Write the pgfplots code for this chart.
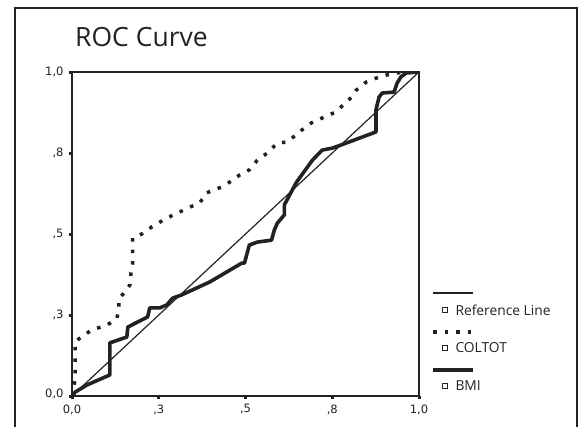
\documentclass[border=0pt]{standalone}
\usepackage{fontspec}
\setmainfont{Open Sans}
\newfontfamily\tickfont{DejaVu Sans}
\usepackage{pgfplots}
\pgfplotsset{compat=1.18}
\definecolor{ink}{HTML}{222222}

\begin{document}
\begin{tikzpicture}
\useasboundingbox (0,0) rectangle (586bp,-427bp);
\begin{axis}[
    at={(72bp,-396bp)}, anchor=south west,
    scale only axis, width=347bp, height=324bp,
    xmin=0, xmax=1, ymin=0, ymax=1,
    xtick={0,0.25,0.5,0.75,1}, ytick={0,0.25,0.5,0.75,1},
    xticklabels={{0,0},{,3},{,5},{,8},{1,0}},
    yticklabels={{\raisebox{6bp}{0,0}},{,3},{,5},{,8},{1,0}},
    xtick pos=left, ytick pos=left,
    axis line style={ink, line width=1.8bp},
    tick align=outside, major tick length=3bp,
    tick style={ink, line width=3bp},
    every tick label/.append style={text=ink, font=\tickfont\fontsize{11.5bp}{14bp}\selectfont},
    xticklabel style={yshift=-2bp},
    yticklabel style={xshift=-2bp},
]
% reference line
\addplot[ink, line width=1.2bp] coordinates {(0,0) (1,1)};
% COLTOT
\addplot[ink, line width=3.5bp, dash pattern=on 3.5bp off 8bp] coordinates {
 (0,0) (0.009,0.05) (0.009,0.136) (0.009,0.167) (0.023,0.179) (0.057,0.204)
 (0.101,0.219) (0.129,0.238) (0.135,0.269) (0.135,0.299) (0.152,0.321)
 (0.167,0.343) (0.170,0.380) (0.175,0.410) (0.175,0.451) (0.175,0.488)
 (0.201,0.500) (0.230,0.522) (0.273,0.549) (0.305,0.565) (0.333,0.580)
 (0.368,0.596) (0.388,0.627) (0.431,0.645) (0.454,0.660) (0.483,0.682)
 (0.511,0.698) (0.534,0.728) (0.563,0.750) (0.592,0.781) (0.621,0.784)
 (0.655,0.815) (0.690,0.843) (0.727,0.861) (0.761,0.877) (0.790,0.907)
 (0.807,0.923) (0.819,0.944) (0.848,0.969) (0.876,0.981) (0.908,0.991)
 (0.937,0.997) (0.963,1) (1,1)
};
% BMI
\addplot[ink, line width=3.6bp, line join=round] coordinates {
 (0,0) (0.009,0.012) (0.043,0.034) (0.109,0.065) (0.109,0.164) (0.158,0.182)
 (0.161,0.213) (0.172,0.219) (0.218,0.244) (0.224,0.272) (0.253,0.272)
 (0.273,0.281) (0.290,0.302) (0.316,0.312) (0.397,0.352) (0.489,0.410)
 (0.497,0.410) (0.511,0.466) (0.534,0.475) (0.575,0.481) (0.583,0.512)
 (0.592,0.534) (0.612,0.559) (0.612,0.590) (0.647,0.660) (0.693,0.728)
 (0.721,0.759) (0.750,0.765) (0.776,0.775) (0.876,0.815) (0.876,0.883)
 (0.885,0.923) (0.894,0.935) (0.928,0.938) (0.937,0.966) (0.948,0.985)
 (0.963,0.997) (1,1)
};
\end{axis}
\begin{scope}[x=1bp, y=-1bp]
\draw[ink, line width=1.5bp] (15,440) -- (15,8) -- (577,8) -- (577,440);
\node[anchor=base west, inner sep=0, font=\fontsize{26.5bp}{30bp}\selectfont, text=ink] at (75,46) {ROC Curve};
% legend
\draw[ink, line width=1.2bp] (433,293) -- (473,293);
\node[draw=ink, line width=1.2bp, minimum size=5bp, inner sep=0] at (445,310) {};
\node[anchor=west, font=\fontsize{13.8bp}{16bp}\selectfont, text=ink] at (452,310) {Reference Line};
\draw[ink, line width=3.5bp, dash pattern=on 3.5bp off 8bp] (433,332) -- (476,332);
\node[draw=ink, line width=1.2bp, minimum size=5bp, inner sep=0] at (445,348) {};
\node[anchor=west, font=\fontsize{13.8bp}{16bp}\selectfont, text=ink] at (452,348) {COLTOT};
\draw[ink, line width=4bp] (433,370) -- (473,370);
\node[draw=ink, line width=1.2bp, minimum size=5bp, inner sep=0] at (445,386) {};
\node[anchor=west, font=\fontsize{13.8bp}{16bp}\selectfont, text=ink] at (452,386) {BMI};
\end{scope}
\end{tikzpicture}
\end{document}
